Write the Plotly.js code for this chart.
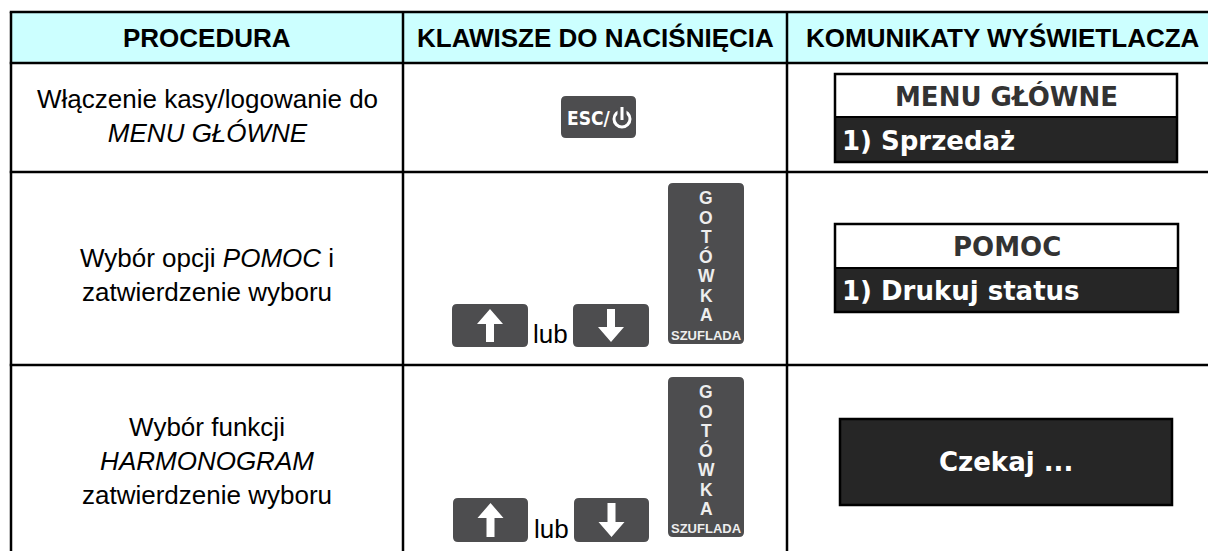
<!DOCTYPE html>
<html><head><meta charset="utf-8">
<script src="https://cdn.plot.ly/plotly-3.0.1.min.js"></script>
<style>html,body{margin:0;padding:0;background:#fff;overflow:hidden}</style>
</head><body><div id="chart" style="width:1208px;height:551px"></div>
<script>
// ---- content ----
const headers = ['PROCEDURA', 'KLAWISZE DO NACIŚNIĘCIA', 'KOMUNIKATY WYŚWIETLACZA'];
const procedures = [
  'Włączenie kasy/logowanie do<br><i>MENU GŁÓWNE</i>',
  'Wybór opcji <i>POMOC</i> i<br>zatwierdzenie wyboru',
  'Wybór funkcji<br><i>HARMONOGRAM</i><br>zatwierdzenie wyboru'
];
const displayTitles = ['MENU GŁÓWNE', 'POMOC', null];
const displayItems = ['1) Sprzedaż', '1) Drukuj status', 'Czekaj ...'];
const escKeyLabel = 'ESC/';
const orWord = 'lub';
const cashKeyLetters = ['G', 'O', 'T', 'Ó', 'W', 'K', 'A'];
const cashKeySub = 'SZUFLADA';

// ---- geometry (pixels) ----
const colX = [11, 403, 787, 1219];
const rowY = [12, 63, 172, 365, 560];
const procOffsets = [-2, 6, -2];
const displayBoxes = [
  {x0: 835, x1: 1177, y0: 74, y1: 162, split: 117},
  {x0: 835, x1: 1178, y0: 224, y1: 312, split: 268},
  {x0: 840, x1: 1172, y0: 419, y1: 505, split: null}
];
const escKey = {x0: 561, x1: 636, y0: 96, y1: 138};
const keyRows = [
  {up: {x0: 452, x1: 528, y0: 304, y1: 347}, down: {x0: 573, x1: 649, y0: 304, y1: 347}, cash: {x0: 668, x1: 744, y0: 183, y1: 344}},
  {up: {x0: 453, x1: 528, y0: 498, y1: 542}, down: {x0: 574, x1: 649, y0: 498, y1: 542}, cash: {x0: 668, x1: 744, y0: 377, y1: 537}}
];

const KEY = '#4d4d4f';
const DISP = '#262626';
const bodyFont = 'Liberation Sans, Arial, sans-serif';
const dispFont = 'DejaVu Sans, Verdana, sans-serif';

const shapes = [];
const annotations = [];

function rr(k, r) {
  const {x0, x1, y0, y1} = k;
  return `M${x0 + r},${y0} L${x1 - r},${y0} Q${x1},${y0} ${x1},${y0 + r} L${x1},${y1 - r} Q${x1},${y1} ${x1 - r},${y1} ` +
         `L${x0 + r},${y1} Q${x0},${y1} ${x0},${y1 - r} L${x0},${y0 + r} Q${x0},${y0} ${x0 + r},${y0} Z`;
}
function keyShape(k) {
  shapes.push({type: 'path', path: rr(k, 5), fillcolor: KEY, line: {width: 0}});
}
function arrow(k, dir) {
  const cx = (k.x0 + k.x1) / 2, h = k.y1 - k.y0;
  const tipOff = 5, endOff = h - 5, headLen = 15, hw = 13, sw = 4;
  let p;
  if (dir === 'up') {
    const t = k.y0 + tipOff, b = k.y0 + endOff, hb = t + headLen;
    p = `M${cx},${t} L${cx + hw},${hb} L${cx + sw},${hb} L${cx + sw},${b} L${cx - sw},${b} L${cx - sw},${hb} L${cx - hw},${hb} Z`;
  } else {
    const t = k.y0 + tipOff, b = k.y0 + endOff, hb = b - headLen;
    p = `M${cx},${b} L${cx + hw},${hb} L${cx + sw},${hb} L${cx + sw},${t} L${cx - sw},${t} L${cx - sw},${hb} L${cx - hw},${hb} Z`;
  }
  shapes.push({type: 'path', path: p, fillcolor: '#ffffff', line: {width: 0}});
}

// header fill
shapes.push({type: 'rect', x0: colX[0], x1: colX[3], y0: rowY[0], y1: rowY[1], fillcolor: '#CCFFFF', line: {width: 0}});
// grid lines
rowY.forEach(y => shapes.push({type: 'line', x0: colX[0] - 1.25, x1: colX[3], y0: y, y1: y, line: {color: '#000', width: 2.5}}));
colX.forEach(x => shapes.push({type: 'line', x0: x, x1: x, y0: rowY[0], y1: rowY[4], line: {color: '#000', width: 2.5}}));

// headers
headers.forEach((h, i) => annotations.push({
  x: (colX[i] + colX[i + 1]) / 2, y: (rowY[0] + rowY[1]) / 2, text: h, showarrow: false,
  xanchor: 'center', yanchor: 'middle', font: {family: bodyFont, size: 26, color: '#000', weight: 'bold'}
}));

// procedures
procedures.forEach((t, i) => annotations.push({
  x: (colX[0] + colX[1]) / 2, y: (rowY[i + 1] + rowY[i + 2]) / 2 + procOffsets[i], text: t, showarrow: false,
  xanchor: 'center', yanchor: 'middle', align: 'center',
  font: {family: bodyFont, size: 26, color: '#000'}
}));

// displays
displayBoxes.forEach((b, i) => {
  if (b.split !== null) {
    shapes.push({type: 'rect', x0: b.x0, x1: b.x1, y0: b.y0, y1: b.split, fillcolor: '#fff', line: {width: 0}});
    shapes.push({type: 'rect', x0: b.x0, x1: b.x1, y0: b.split, y1: b.y1, fillcolor: DISP, line: {width: 0}});
    shapes.push({type: 'line', x0: b.x0, x1: b.x1, y0: b.split, y1: b.split, line: {color: '#000', width: 2}});
    shapes.push({type: 'rect', x0: b.x0, x1: b.x1, y0: b.y0, y1: b.y1, line: {color: '#000', width: 2.5}});
    annotations.push({x: (b.x0 + b.x1) / 2, y: (b.y0 + b.split) / 2 + 1, text: displayTitles[i], showarrow: false,
      xanchor: 'center', yanchor: 'middle', font: {family: dispFont, size: 26, color: '#333333', weight: 'bold'}});
    annotations.push({x: b.x0 + 5, y: (b.split + b.y1) / 2 + 1, text: displayItems[i], showarrow: false,
      xanchor: 'left', yanchor: 'middle', font: {family: dispFont, size: 26, color: '#ffffff', weight: 'bold'}});
  } else {
    shapes.push({type: 'rect', x0: b.x0, x1: b.x1, y0: b.y0, y1: b.y1, fillcolor: DISP, line: {color: '#000', width: 2.5}});
    annotations.push({x: (b.x0 + b.x1) / 2, y: (b.y0 + b.y1) / 2, text: displayItems[i], showarrow: false,
      xanchor: 'center', yanchor: 'middle', font: {family: dispFont, size: 26, color: '#ffffff', weight: 'bold'}});
  }
});

// ESC key
keyShape(escKey);
annotations.push({x: escKey.x0 + 4, y: (escKey.y0 + escKey.y1) / 2 + 1, text: escKeyLabel, showarrow: false,
  xanchor: 'left', yanchor: 'middle',
  font: {family: 'Liberation Sans Narrow, DejaVu Sans Condensed, Liberation Sans, Arial', size: 19, color: '#fff', weight: 'bold'}});
{
  const cx = escKey.x1 - 14, cy = (escKey.y0 + escKey.y1) / 2 + 2, r = 8;
  shapes.push({type: 'circle', x0: cx - r, x1: cx + r, y0: cy - r, y1: cy + r, line: {color: '#fff', width: 3}, fillcolor: 'rgba(0,0,0,0)'});
  shapes.push({type: 'rect', x0: cx - 4.5, x1: cx + 4.5, y0: cy - r - 3, y1: cy - 3, fillcolor: KEY, line: {width: 0}});
  shapes.push({type: 'line', x0: cx, x1: cx, y0: cy - r - 4, y1: cy + 1, line: {color: '#fff', width: 3}});
}

// arrow + cash keys
keyRows.forEach(kr => {
  keyShape(kr.up); arrow(kr.up, 'up');
  keyShape(kr.down); arrow(kr.down, 'down');
  annotations.push({x: (kr.up.x1 + kr.down.x0) / 2, y: kr.up.y1 - 13, text: orWord, showarrow: false,
    xanchor: 'center', yanchor: 'middle', font: {family: bodyFont, size: 26, color: '#000'}});
  keyShape(kr.cash);
  const cx = (kr.cash.x0 + kr.cash.x1) / 2;
  cashKeyLetters.forEach((L, j) => annotations.push({x: cx, y: kr.cash.y0 + 15 + j * 19.5, text: L, showarrow: false,
    xanchor: 'center', yanchor: 'middle', font: {family: bodyFont, size: 17.5, color: '#eeeeee', weight: 'bold'}}));
  annotations.push({x: cx, y: kr.cash.y1 - 9, text: cashKeySub, showarrow: false,
    xanchor: 'center', yanchor: 'middle', font: {family: bodyFont, size: 13, color: '#eeeeee', weight: 'bold'}});
});

const layout = {
  width: 1208, height: 551, margin: {l: 0, r: 0, t: 0, b: 0, pad: 0},
  paper_bgcolor: '#fff', plot_bgcolor: '#fff', showlegend: false,
  xaxis: {range: [0, 1208], visible: false, fixedrange: true},
  yaxis: {range: [551, 0], visible: false, fixedrange: true},
  shapes: shapes, annotations: annotations
};
Plotly.newPlot('chart', [{x: [], y: [], type: 'scatter', mode: 'markers', hoverinfo: 'skip'}], layout,
  {staticPlot: true, displayModeBar: false});
</script></body></html>
